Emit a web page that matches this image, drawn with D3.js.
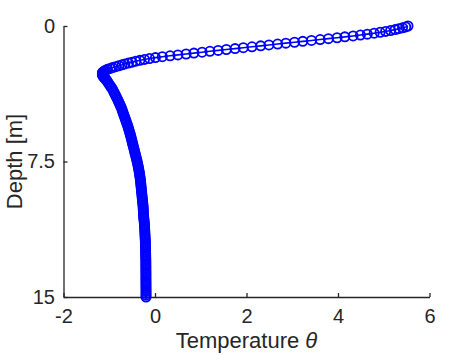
<!DOCTYPE html>
<html><head><meta charset="utf-8">
<script src="https://cdn.jsdelivr.net/npm/d3@7"></script>
<style>body{margin:0;background:#fff}</style></head>
<body>
<svg id="chart" width="474" height="355"></svg>
<script>
// Depth [m] of each profile sample
const depth = [
  0.00,0.05,0.10,0.15,0.20,0.25,0.30,0.35,0.40,0.45,
  0.50,0.55,0.60,0.65,0.70,0.75,0.80,0.85,0.90,0.95,
  1.00,1.05,1.10,1.15,1.20,1.25,1.30,1.35,1.40,1.45,
  1.50,1.55,1.60,1.65,1.70,1.75,1.80,1.85,1.90,1.95,
  2.00,2.05,2.10,2.15,2.20,2.25,2.30,2.35,2.40,2.45,
  2.50,2.55,2.60,2.65,2.70,2.75,2.80,2.85,2.90,2.95,
  3.00,
  3.1,3.2,3.3,3.4,3.5,3.6,3.7,3.8,3.9,4.0,
  4.1,4.2,4.3,4.4,4.5,4.6,4.7,4.8,4.9,5.0,
  5.1,5.2,5.3,5.4,5.5,5.6,5.7,5.8,5.9,6.0,
  6.1,6.2,6.3,6.4,6.5,6.6,6.7,6.8,6.9,7.0,
  7.1,7.2,7.3,7.4,7.5,7.6,7.7,7.8,7.9,8.0,
  8.1,8.2,8.3,8.4,8.5,8.6,8.7,8.8,8.9,9.0,
  9.1,9.2,9.3,9.4,9.5,9.6,9.7,9.8,9.9,10.0,
  10.1,10.2,10.3,10.4,10.5,10.6,10.7,10.8,10.9,11.0,
  11.1,11.2,11.3,11.4,11.5,11.6,11.7,11.8,11.9,12.0,
  12.1,12.2,12.3,12.4,12.5,12.6,12.7,12.8,12.9,13.0,
  13.1,13.2,13.3,13.4,13.5,13.6,13.7,13.8,13.9,14.0,
  14.1,14.2,14.3,14.4,14.5,14.6,14.7,14.8,14.9,15.0
];
// Temperature theta at each depth
const temperature = [
  5.53,5.48,5.41,5.33,5.25,5.15,5.04,4.92,4.79,4.64,
  4.49,4.33,4.15,3.98,3.79,3.61,3.42,3.23,3.05,2.86,
  2.68,2.49,2.31,2.12,1.93,1.75,1.56,1.38,1.20,1.03,
  0.85,0.68,0.50,0.33,0.16,0.01,-0.12,-0.23,-0.33,-0.42,
  -0.50,-0.58,-0.66,-0.72,-0.79,-0.86,-0.93,-0.98,-1.04,-1.08,
  -1.11,-1.14,-1.15,-1.15,-1.15,-1.14,-1.13,-1.11,-1.09,-1.08,
  -1.06,
  -1.034,-1.008,-0.982,-0.956,-0.930,-0.910,-0.890,-0.870,-0.850,-0.830,
  -0.812,-0.794,-0.776,-0.758,-0.740,-0.726,-0.712,-0.698,-0.684,-0.670,
  -0.656,-0.642,-0.628,-0.614,-0.600,-0.588,-0.576,-0.564,-0.552,-0.540,
  -0.530,-0.520,-0.510,-0.500,-0.490,-0.480,-0.470,-0.460,-0.450,-0.440,
  -0.430,-0.420,-0.410,-0.400,-0.390,-0.382,-0.374,-0.366,-0.358,-0.350,
  -0.344,-0.338,-0.332,-0.326,-0.320,-0.316,-0.312,-0.308,-0.304,-0.300,
  -0.296,-0.292,-0.288,-0.284,-0.280,-0.276,-0.272,-0.268,-0.264,-0.260,
  -0.258,-0.256,-0.254,-0.252,-0.250,-0.246,-0.242,-0.238,-0.234,-0.230,
  -0.228,-0.226,-0.224,-0.222,-0.220,-0.218,-0.216,-0.214,-0.212,-0.210,
  -0.209,-0.208,-0.207,-0.206,-0.205,-0.204,-0.203,-0.202,-0.201,-0.200,
  -0.200,-0.200,-0.199,-0.199,-0.199,-0.199,-0.198,-0.198,-0.198,-0.198,
  -0.198,-0.197,-0.197,-0.197,-0.197,-0.196,-0.196,-0.196,-0.196,-0.196
];
const xTickValues = [-2, 0, 2, 4, 6];
const xTickLabels = ["-2", "0", "2", "4", "6"];
const yTickValues = [0, 7.5, 15];
const yTickLabels = ["0", "7.5", "15"];
const xTitle = "Temperature ";
const xTitleSymbol = "θ";
const yTitle = "Depth [m]";

const svg = d3.select("#chart");
const font = "'Liberation Sans', Arial, Helvetica, sans-serif";
const axisColor = "#262626";

const x = d3.scaleLinear().domain([-2, 6]).range([63.5, 429.5]);
const y = d3.scaleLinear().domain([0, 15]).range([26, 297]);

const gx = svg.append("g").attr("transform", `translate(0,${y(15)})`)
  .call(d3.axisBottom(x).tickValues(xTickValues)
    .tickFormat((d, i) => xTickLabels[i])
    .tickSizeInner(-4).tickSizeOuter(0).tickPadding(12));
const gy = svg.append("g").attr("transform", `translate(${x(-2)},0)`)
  .call(d3.axisLeft(y).tickValues(yTickValues)
    .tickFormat((d, i) => yTickLabels[i])
    .tickSizeInner(-4).tickSizeOuter(0).tickPadding(8.5));

[gx, gy].forEach(g => {
  g.select(".domain").attr("stroke", axisColor).attr("stroke-width", 1.3);
  g.selectAll(".tick line").attr("stroke", axisColor).attr("stroke-width", 1.3);
  g.selectAll(".tick text").attr("fill", axisColor)
    .style("font-family", font).style("font-size", "20px");
});

svg.append("text")
  .attr("x", (x(-2) + x(6)) / 2).attr("y", 348)
  .attr("text-anchor", "middle").attr("fill", axisColor)
  .style("font-family", font).style("font-size", "22px")
  .text(xTitle)
  .append("tspan").style("font-style", "italic").text(xTitleSymbol);

svg.append("text")
  .attr("transform", `translate(22,${(y(0) + y(15)) / 2}) rotate(-90)`)
  .attr("text-anchor", "middle").attr("fill", axisColor)
  .style("font-family", font).style("font-size", "22px")
  .text(yTitle);

const pts = depth.map((d, i) => ({ z: d, t: temperature[i] }));

svg.append("path").datum(pts)
  .attr("fill", "none").attr("stroke", "#0000ff").attr("stroke-width", 1.6)
  .attr("d", d3.line().x(p => x(p.t)).y(p => y(p.z)));

svg.append("g").selectAll("circle").data(pts).join("circle")
  .attr("cx", p => x(p.t)).attr("cy", p => y(p.z)).attr("r", 4.6)
  .attr("fill", "none").attr("stroke", "#0000ff").attr("stroke-width", 1.8);
</script>
</body></html>
